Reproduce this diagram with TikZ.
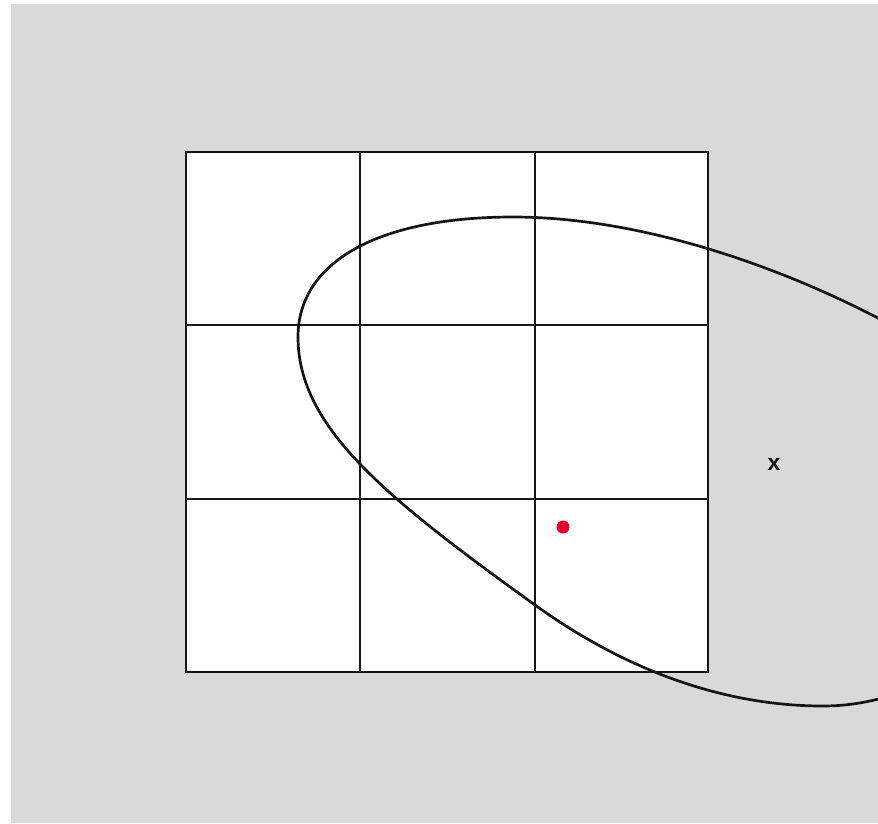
\documentclass[tikz,border=0pt]{standalone}
\usepackage{fontspec}
\setmainfont{Liberation Sans}
\definecolor{bggray}{RGB}{217,217,217}
\definecolor{dotred}{RGB}{222,0,42}
\definecolor{ink}{RGB}{20,20,20}
\begin{document}
\begin{tikzpicture}[x=1pt,y=-1pt,
  gridline/.style={draw=ink,line width=2.8pt},
  curveline/.style={draw=ink,line width=2.7pt}]
\useasboundingbox (0,0) rectangle (878,823);
\fill[white] (0,0) rectangle (878,823);
\fill[bggray] (11,4) rectangle (878,823);
\begin{scope}
\clip (11,4) rectangle (878,823);
\fill[white] (186,152) rectangle (708,672);
\draw[gridline] (360,152) -- (360,672);
\draw[gridline] (535,152) -- (535,672);
\draw[gridline] (186,325) -- (708,325);
\draw[gridline] (186,499) -- (708,499);
\draw[gridline] (186,152) rectangle (708,672);
\coordinate (L) at (298,337);
\coordinate (T) at (513,217);
\coordinate (P) at (878,318);
\coordinate (R) at (1035,520);
\coordinate (B) at (823,706);
\coordinate (M) at (535,605);
\draw[curveline]
  (L) .. controls (298,262) and (378,217) .. (T)
      .. controls (633,217) and (768,261) .. (P)
      .. controls (938,349) and (1035,430) .. (R)
      .. controls (1035,610) and (943,706) .. (B)
      .. controls (723,706) and (625,669.8) .. (M)
      .. controls (385,497) and (298,427) .. (L) -- cycle;
\end{scope}
\fill[dotred] (563,527) circle (6.5pt);
\node[inner sep=0pt, font=\bfseries\fontsize{23}{23}\selectfont, text=ink] (xmark) at (774,464) {x};
\end{tikzpicture}
\end{document}
